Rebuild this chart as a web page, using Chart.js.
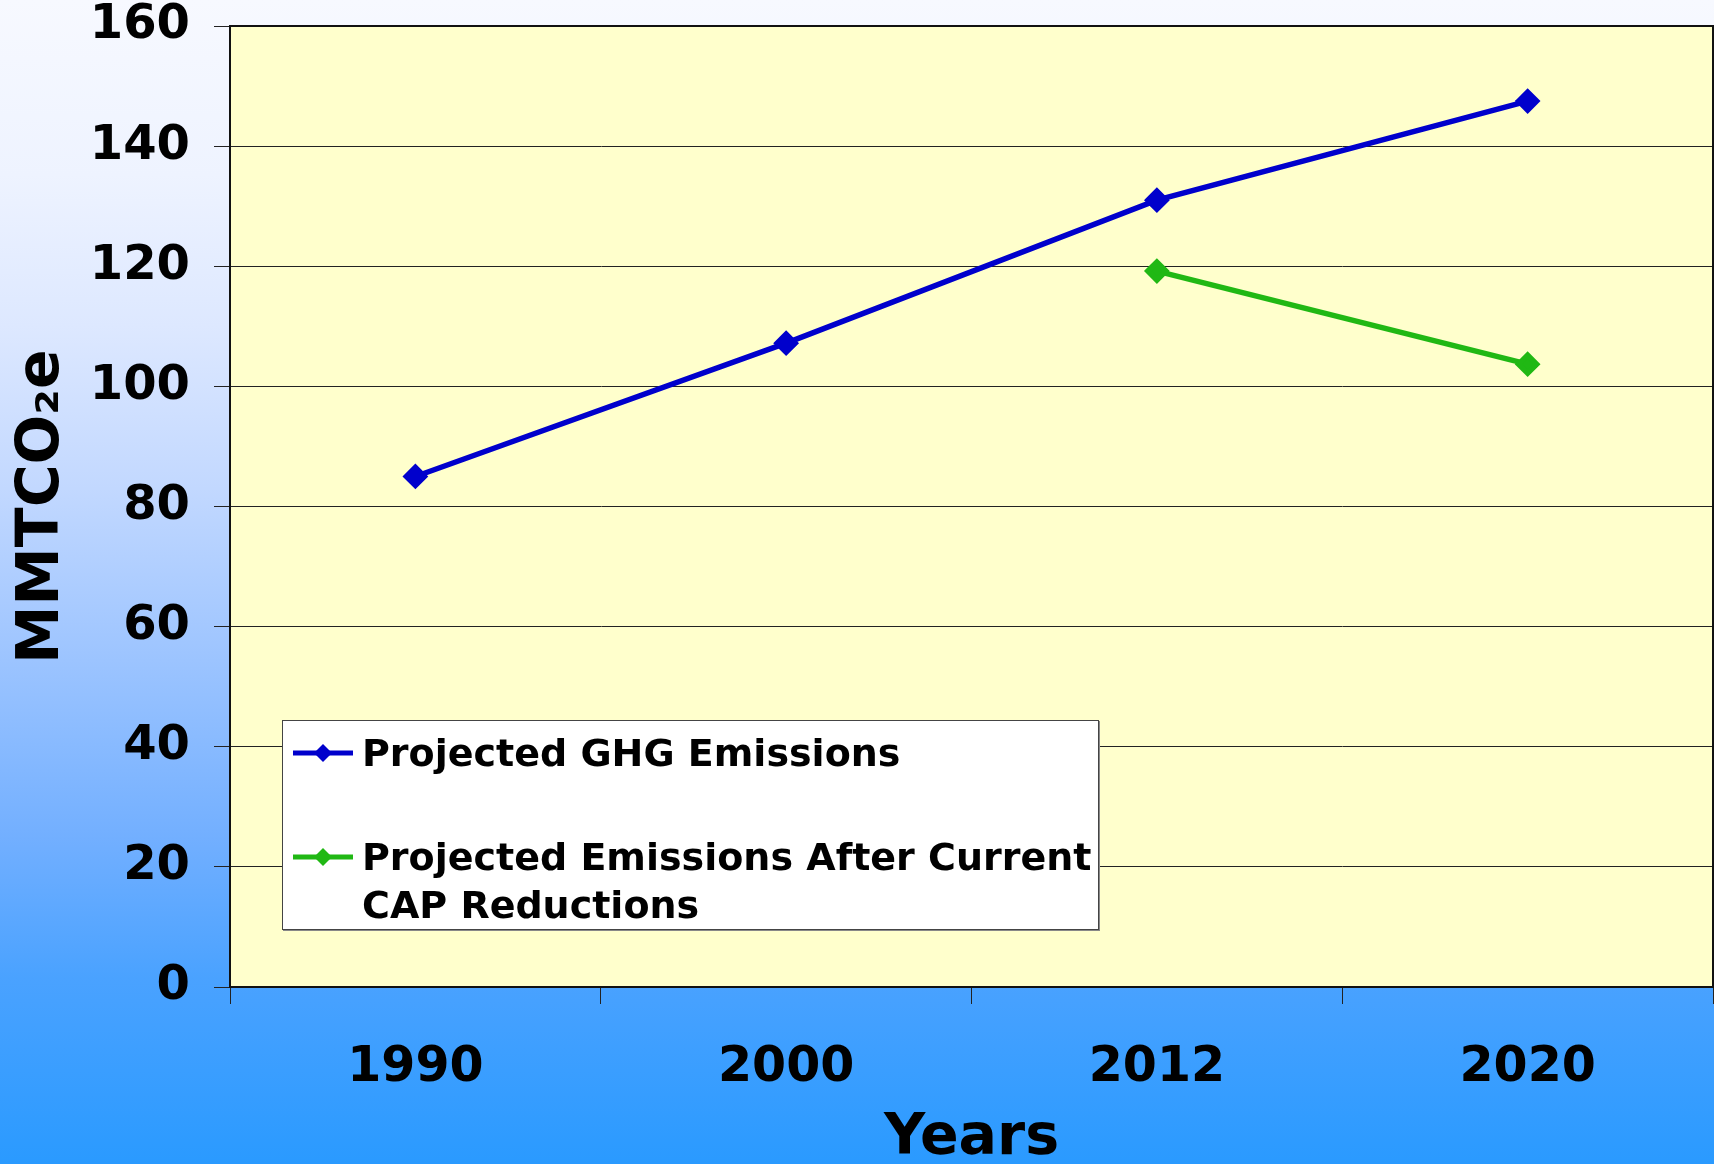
<!DOCTYPE html>
<html>
<head>
<meta charset="utf-8">
<script src="https://cdn.jsdelivr.net/npm/chart.js@4.4.1/dist/chart.umd.min.js"></script>
<style>
  html, body { margin: 0; padding: 0; }
  body {
    width: 1714px; height: 1164px; overflow: hidden; position: relative;
    background: linear-gradient(to bottom, #f7f9ff 0%, #eef3ff 15%, #dde8ff 28%, #c2d8ff 42%, #9ec5ff 56%, #72afff 72%, #4aa2ff 84%, #2a9aff 100%);
    font-family: "DejaVu Sans", Verdana, sans-serif;
  }
  #chart { position: absolute; left: 0; top: 0; }
  #legend {
    position: absolute; left: 282px; top: 720px; width: 817px; height: 210px;
    box-sizing: border-box; background: #fff; border: 1px solid #444;
    box-shadow: 1px 1px 0 #888;
  }
  .item { position: absolute; left: 8px; font-weight: bold; font-size: 38px; line-height: 48px; color: #000; white-space: pre; }
  .item svg { position: absolute; left: 0; }
  .item span { display: block; margin-left: 71px; }
</style>
</head>
<body>
<canvas id="chart" width="1714" height="1164"></canvas>
<div id="legend"></div>
<script>
// values
const years = ["1990", "2000", "2012", "2020"];
const projected = [85, 107.2, 131, 147.5];
const afterCap = [null, null, 119.2, 103.7];
const seriesNames = ["Projected GHG Emissions", "Projected Emissions After Current\nCAP Reductions"];
const seriesColors = ["#0000cc", "#20b814"];

const plotBg = {
  id: "plotBg",
  beforeDraw(chart) {
    const a = chart.chartArea, ctx = chart.ctx;
    ctx.save();
    ctx.fillStyle = "#ffffcc";
    ctx.fillRect(a.left, a.top, a.right - a.left, a.bottom - a.top);
    ctx.restore();
  },
  afterDatasetsDraw(chart) {
    const a = chart.chartArea, ctx = chart.ctx;
    ctx.save();
    ctx.strokeStyle = "#111";
    ctx.lineWidth = 2;
    ctx.strokeRect(a.left, a.top, a.right - a.left, a.bottom - a.top);
    ctx.restore();
  }
};

const myChart = new Chart("chart", {
  type: "line",
  data: {
    labels: years,
    datasets: [{
      label: seriesNames[0],
      data: projected,
      borderColor: seriesColors[0],
      backgroundColor: seriesColors[0],
      borderWidth: 5.5,
      pointStyle: "rectRot",
      pointRadius: 9,
      tension: 0
    }, {
      label: seriesNames[1],
      data: afterCap,
      borderColor: seriesColors[1],
      backgroundColor: seriesColors[1],
      borderWidth: 5.5,
      pointStyle: "rectRot",
      pointRadius: 9,
      tension: 0
    }]
  },
  options: {
    responsive: false,
    animation: false,
    layout: { autoPadding: false, padding: { top: 26, right: 1, left: 0, bottom: 0 } },
    plugins: { legend: { display: false }, tooltip: { enabled: false } },
    scales: {
      x: {
        offset: true,
        grid: { offset: true, drawOnChartArea: false, tickLength: 17, color: "#222", tickWidth: 1 },
        border: { display: true, color: "#111", width: 2 },
        ticks: { color: "#000", padding: 35, font: { family: "DejaVu Sans", weight: "bold", size: 49 } },
        title: { display: true, text: "Years", color: "#000", padding: 0,
                 font: { family: "DejaVu Sans", weight: "bold", size: 57, lineHeight: 0.86 } },
        afterFit(scale) { scale.height = 177; scale.paddingLeft = 0; scale.paddingRight = 0; }
      },
      y: {
        min: 0, max: 160,
        ticks: { stepSize: 20, color: "#000", padding: 24, font: { family: "DejaVu Sans", weight: "bold", size: 48, lineHeight: 1 } },
        grid: { color: "#222", lineWidth: 1, tickLength: 16 },
        border: { display: true, color: "#111", width: 2 },
        title: { display: true, text: "MMTCO₂e", color: "#000", padding: { top: 8, bottom: 0 },
                 font: { family: "DejaVu Sans", weight: "bold", size: 58.5 } },
        afterFit(scale) { scale.width = 230; scale.paddingTop = 0; scale.paddingBottom = 0; }
      }
    }
  },
  plugins: [plotBg]
});

// legend box drawn inside the plot, like the original
function buildLegend(chart) {
  const box = document.getElementById("legend");
  const tops = [8, 112];
  chart.data.datasets.forEach((ds, i) => {
    const item = document.createElement("div");
    item.className = "item";
    item.style.top = tops[i] + "px";
    const c = ds.borderColor;
    item.innerHTML =
      '<svg width="64" height="48" style="top:0"><line x1="2" y1="24" x2="62" y2="24"' +
      ' stroke="' + c + '" stroke-width="5"/><polygon points="32,15 41,24 32,33 23,24" fill="' + c + '"/></svg>' +
      '<span></span>';
    item.querySelector("span").textContent = ds.label;
    box.appendChild(item);
  });
}
buildLegend(myChart);
</script>
</body>
</html>
